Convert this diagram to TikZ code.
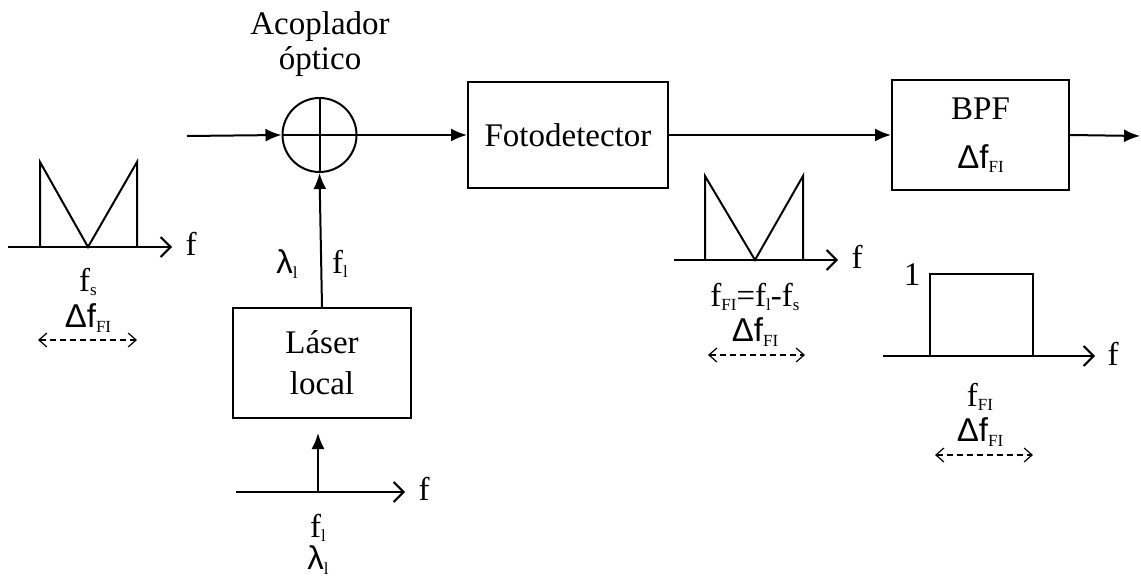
\documentclass[tikz,border=0pt]{standalone}
\usepackage{fontspec}
\setmainfont{Liberation Serif}
\newfontfamily\symfont{Liberation Sans}
\usetikzlibrary{arrows.meta}
\newcommand{\sbs}[1]{\raisebox{-0.3ex}{\fontsize{8.5}{9}\selectfont #1}}
\newcommand{\dfi}{{\symfont Δf}\sbs{FI}}
\newcommand{\lamb}{{\symfont λ}\sbs{l}}

\begin{document}
\begin{tikzpicture}[x=0.5pt,y=-0.5pt,
  font=\fontsize{16.5}{17.5}\selectfont,
  blk/.style={draw,line width=1pt,inner sep=0pt,align=center},
  lbl/.style={inner sep=0pt,align=center},
  arr/.style={-{Latex[length=8pt,width=6.5pt]},line width=1pt},
  ax/.style={-{Straight Barb[length=5pt,width=10pt]},line width=1pt},
  span/.style={{Straight Barb[length=4pt,width=7pt]}-{Straight Barb[length=4pt,width=7pt]},densely dashed,line width=0.6pt}]
\useasboundingbox (0,0) rectangle (1141,577);
\node[blk,circle,minimum size=37pt] (cpl) at (319.5,135) {};
\draw[line width=1pt] (cpl.north)--(cpl.south) (cpl.west)--(cpl.east);
\node[lbl] (cpltxt) at (320,44) {Acoplador\\óptico};
\node[blk,minimum width=100pt,minimum height=53pt] (det) at (568,135) {Fotodetector};
\node[blk,minimum width=88.5pt,minimum height=55pt] (bpf) at (980.5,135) {BPF\\[7pt]\dfi};
\node[blk,minimum width=89pt,minimum height=55pt] (las) at (322,363) {Láser\\[3pt]local};
\coordinate (in) at (187,136);
\coordinate (out) at (1140,136);
\draw[arr] (in)--(cpl.west);
\draw[arr] (las.north)--(cpl.south);
\draw[arr] (cpl.east)--(det.west);
\draw[arr] (det.east)--(bpf.west);
\draw[arr] (bpf.east)--(out);
\node[lbl] (lam) at (287,264) {\lamb};
\node[lbl] (fl) at (340,264) {f\sbs{l}};
% espectro de entrada
\draw[ax] (8,247)--(172,247);
\draw[line width=1pt] (40,247)--(40,162)--(88,247)--(137,162)--(137,247);
\node[lbl] (f1) at (191,244) {f};
\node[lbl] (fs) at (88,282) {f\sbs{s}};
\node[lbl] (d1) at (88,318) {\dfi};
\draw[span] (38,340)--(137,340);
% espectro del laser local
\draw[ax] (236,492)--(405,492);
\draw[arr] (318,492)--(318,433);
\node[lbl] (f2) at (424,489) {f};
\node[lbl] (fl2) at (318,528) {f\sbs{l}};
\node[lbl] (l2) at (318,560) {\lamb};
% espectro FI
\draw[ax] (674,260)--(838,260);
\draw[line width=1pt] (705,260)--(705,176)--(755,260)--(803,176)--(803,260);
\node[lbl] (f3) at (857,257) {f};
\node[lbl] (ffi) at (755,297) {f\sbs{FI}=f\sbs{l}-f\sbs{s}};
\node[lbl] (d3) at (755,332) {\dfi};
\draw[span] (708,355)--(805,355);
% filtro
\draw[ax] (883,356)--(1095,356);
\draw[line width=1pt] (930,356)--(930,274)--(1033,274)--(1033,356);
\node[lbl] (one) at (912,275) {1};
\node[lbl] (f4) at (1113,354) {f};
\node[lbl] (ffi2) at (980,397) {f\sbs{FI}};
\node[lbl] (d4) at (980,432) {\dfi};
\draw[span] (935,455)--(1033,455);
\end{tikzpicture}
\end{document}
